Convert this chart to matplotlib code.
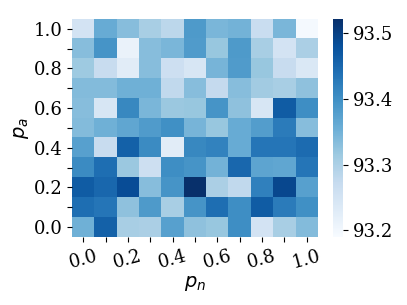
import matplotlib
matplotlib.use("Agg")
import matplotlib.pyplot as plt
import numpy as np

# grid axes
p_n = [0.0, 0.1, 0.2, 0.3, 0.4, 0.5, 0.6, 0.7, 0.8, 0.9, 1.0]
p_a = [0.0, 0.1, 0.2, 0.3, 0.4, 0.5, 0.6, 0.7, 0.8, 0.9, 1.0]

# accuracy values, rows = p_a from 0.0 (bottom) to 1.0 (top), cols = p_n
row_00 = [93.352, 93.458, 93.303, 93.300, 93.376, 93.326, 93.319, 93.402, 93.250, 93.303, 93.336]
row_01 = [93.442, 93.432, 93.326, 93.385, 93.303, 93.392, 93.442, 93.402, 93.465, 93.425, 93.399]
row_02 = [93.465, 93.451, 93.484, 93.333, 93.392, 93.521, 93.300, 93.277, 93.418, 93.491, 93.376]
row_03 = [93.405, 93.442, 93.316, 93.260, 93.402, 93.392, 93.349, 93.451, 93.369, 93.366, 93.432]
row_04 = [93.376, 93.270, 93.458, 93.405, 93.227, 93.409, 93.415, 93.359, 93.432, 93.432, 93.445]
row_05 = [93.336, 93.352, 93.366, 93.382, 93.399, 93.346, 93.319, 93.359, 93.379, 93.425, 93.333]
row_06 = [93.333, 93.244, 93.409, 93.343, 93.316, 93.319, 93.392, 93.326, 93.244, 93.465, 93.402]
row_07 = [93.336, 93.336, 93.352, 93.352, 93.277, 93.333, 93.273, 93.333, 93.310, 93.303, 93.326]
row_08 = [93.313, 93.270, 93.227, 93.333, 93.260, 93.244, 93.346, 93.382, 93.319, 93.270, 93.237]
row_09 = [93.333, 93.392, 93.211, 93.333, 93.343, 93.382, 93.319, 93.385, 93.303, 93.250, 93.300]
row_10 = [93.250, 93.359, 93.333, 93.303, 93.283, 93.385, 93.343, 93.349, 93.267, 93.343, 93.195]

data = np.array([row_00, row_01, row_02, row_03, row_04, row_05,
                 row_06, row_07, row_08, row_09, row_10])

plt.rcParams["font.family"] = "DejaVu Serif"
plt.rcParams["mathtext.fontset"] = "dejavusans"

fig = plt.figure(figsize=(4.07, 3.05), dpi=100)
ax = fig.add_axes([0.177, 0.223, 0.604, 0.715])
cax = fig.add_axes([0.818, 0.223, 0.025, 0.715])

im = ax.imshow(data, origin="lower", cmap="Blues", aspect="auto",
               vmin=93.19, vmax=93.521, interpolation="nearest")

ax.set_xticks(range(len(p_n)))
ax.set_yticks(range(len(p_a)))
ax.set_xticklabels([f"{v:.1f}" if k % 2 == 0 else "" for k, v in enumerate(p_n)],
                   rotation=15, fontsize=13)
ax.set_yticklabels([f"{v:.1f}" if k % 2 == 0 else "" for k, v in enumerate(p_a)],
                   fontsize=13)
for s in ax.spines.values():
    s.set_visible(False)

ax.set_xlabel(r"$p_n$", fontsize=14, labelpad=2)
ax.set_ylabel(r"$p_a$", fontsize=14, labelpad=2)

cbar = fig.colorbar(im, cax=cax)
cbar.set_ticks([93.2, 93.3, 93.4, 93.5])
cbar.ax.tick_params(labelsize=13)
cbar.outline.set_visible(False)

fig.savefig("out.png", dpi=100)
